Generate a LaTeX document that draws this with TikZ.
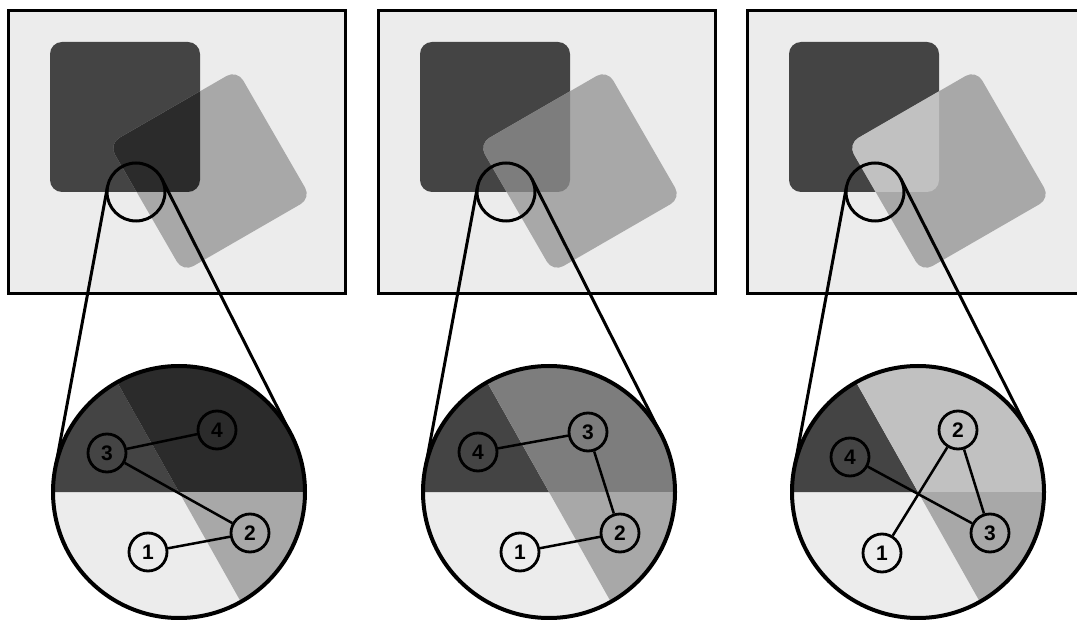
\documentclass[tikz,border=0pt]{standalone}
\usepackage{fontspec}
\setsansfont{Liberation Sans}
\usepackage{tikz}
\usetikzlibrary{calc}
\usepackage{xcolor}
\definecolor{panelbg}{RGB}{236,236,236}
\definecolor{sqdark}{RGB}{68,68,68}
\definecolor{sqlight}{RGB}{168,168,168}
\definecolor{ovdark}{RGB}{43,43,43}
\definecolor{ovmid}{RGB}{125,125,125}
\definecolor{ovlight}{RGB}{193,193,193}

\begin{document}
\begin{tikzpicture}[x=1pt, y=-1pt,
    frame/.style={draw, line width=3pt, fill=panelbg},
    lens/.style={circle, draw, line width=3pt, minimum size=58pt, inner sep=0pt, outer sep=0pt},
    zoomring/.style={circle, draw, line width=4pt, minimum size=252pt, inner sep=0pt, outer sep=0pt},
    vtx/.style={circle, draw, line width=2.8pt, minimum size=38pt, inner sep=0pt, font=\sffamily\bfseries\fontsize{21}{21}\selectfont},
    link/.style={line width=2.5pt},
    ray/.style={line width=3pt}
]
\useasboundingbox (0,0) rectangle (1077,620);
\clip (0,0) rectangle (1077,620);
\fill[white] (0,0) rectangle (1077,620);

\foreach \i/\dx/\ov in {1/0/ovdark, 2/370/ovmid, 3/739/ovlight}{
  \draw[frame] (8+\dx,11) rectangle (345+\dx,294);
  \fill[sqdark, rounded corners=12pt] (50+\dx,42) rectangle (200+\dx,192);
  \fill[sqlight, rounded corners=12pt, rotate around={30:(210+\dx,171)}] (136+\dx,97) rectangle (284+\dx,245);
  \begin{scope}
    \clip[rounded corners=12pt] (50+\dx,42) rectangle (200+\dx,192);
    \fill[\ov, rounded corners=12pt, rotate around={30:(210+\dx,171)}] (136+\dx,97) rectangle (284+\dx,245);
  \end{scope}
  \node[lens] (lens\i) at (136+\dx,192) {};
  % magnified view
  \begin{scope}
    \clip (179+\dx,492) circle[radius=126];
    \fill[panelbg] (179+\dx,492) circle[radius=126];
    \fill[sqdark] (179+\dx,492) -- (81+\dx,318) -- (-21+\dx,318) -- (-21+\dx,492) -- cycle;
    \fill[\ov] (179+\dx,492) -- (81+\dx,318) -- (379+\dx,318) -- (379+\dx,492) -- cycle;
    \fill[sqlight] (179+\dx,492) -- (277+\dx,666) -- (379+\dx,666) -- (379+\dx,492) -- cycle;
  \end{scope}
  \node[zoomring] (zoom\i) at (179+\dx,492) {};
  \draw[ray] (lens\i.169) -- (zoom\i.169);
  \draw[ray] (lens\i.27) -- (zoom\i.27);
}

\node[vtx] (a1) at (148,552) {1};
\node[vtx] (a2) at (250,533) {2};
\node[vtx] (a3) at (107,453) {3};
\node[vtx] (a4) at (217,430) {4};
\draw[link] (a3) -- (a4);
\draw[link] (a3) -- (a2);
\draw[link] (a1) -- (a2);

\node[vtx] (b1) at (520,552) {1};
\node[vtx] (b2) at (620,533) {2};
\node[vtx] (b3) at (588,432) {3};
\node[vtx] (b4) at (478,452) {4};
\draw[link] (b4) -- (b3);
\draw[link] (b3) -- (b2);
\draw[link] (b1) -- (b2);

\node[vtx] (c1) at (882,553) {1};
\node[vtx] (c2) at (958,430) {2};
\node[vtx] (c3) at (990,533) {3};
\node[vtx] (c4) at (850,457) {4};
\draw[link] (c4) -- (c3);
\draw[link] (c2) -- (c3);
\draw[link] (c1) -- (c2);
\end{tikzpicture}
\end{document}
